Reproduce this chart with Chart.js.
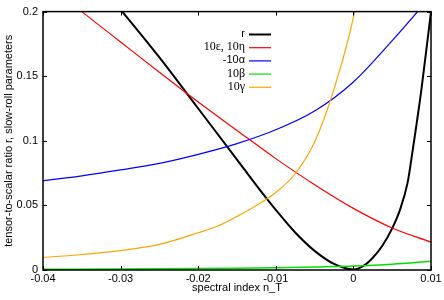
<!DOCTYPE html>
<html>
<head>
<meta charset="utf-8">
<script src="https://cdn.jsdelivr.net/npm/chart.js@4/dist/chart.umd.min.js"></script>
<style>
html,body{margin:0;padding:0;background:#fff;}
#wrap{width:444px;height:300px;position:relative;}
</style>
</head>
<body>
<div id="wrap"><canvas id="c" width="444" height="300"></canvas></div>
<script>
// ---- data ----
const seriesLabels = ["r", "10\u03b5, 10\u03b7", "-10\u03b1", "10\u03b2", "10\u03b3"];
const seriesColors = ["#000000", "#ff0000", "#0000ff", "#00e000", "#ffa500"];

const rX = [-0.04,-0.035,-0.03,-0.025,-0.02,-0.015,-0.0125,-0.01,-0.0075,-0.005,-0.0025,0,0.00125,0.0025,0.00375,0.005,0.006,0.007,0.0075,0.00875,0.01];
const rY = [0.272,0.237,0.2015,0.1645,0.125,0.0855,0.0655,0.0465,0.029,0.0148,0.0047,0.0004,0.003,0.0095,0.019,0.0322,0.0465,0.068,0.087,0.139,0.2];

const epsX = [-0.04,-0.035,-0.03,-0.025,-0.02,-0.015,-0.01,-0.005,0,0.005,0.01];
const epsY = [0.224,0.2,0.1765,0.153,0.130,0.108,0.0862,0.066,0.0477,0.0325,0.0215];

const alphaX = [-0.04,-0.035,-0.03,-0.025,-0.02,-0.015,-0.01,-0.005,0,0.005,0.01];
const alphaY = [0.069,0.0729,0.0775,0.0825,0.0895,0.0978,0.1085,0.123,0.1455,0.1775,0.212];

const betaX = [-0.04,-0.03,-0.02,-0.015,-0.01,-0.005,0,0.005,0.01];
const betaY = [0.0005,0.0007,0.0011,0.0014,0.0018,0.0024,0.0031,0.0045,0.0068];

const gammaX = [-0.04,-0.035,-0.03,-0.025,-0.02,-0.0175,-0.015,-0.0125,-0.01,-0.0075,-0.005,-0.0025,0,0.0025];
const gammaY = [0.0097,0.012,0.015,0.0198,0.0288,0.034,0.0415,0.050,0.060,0.0745,0.099,0.140,0.1955,0.28];

const xTicks = [-0.04,-0.03,-0.02,-0.01,0,0.01];
const xTickLabels = ["-0.04","-0.03","-0.02","-0.01","0","0.01"];
const yTicks = [0,0.05,0.1,0.15,0.2];
const yTickLabels = ["0","0.05","0.1","0.15","0.2"];

const xTitle = "spectral index n_T";
const yTitle = "tensor-to-scalar ratio r, slow-roll parameters";

// ---- build ----
const xs = [rX, epsX, alphaX, betaX, gammaX];
const ys = [rY, epsY, alphaY, betaY, gammaY];
const widths = [2, 1.2, 1.2, 1.5, 1.2];
const legendSerif = [false, true, false, true, true];

const datasets = seriesLabels.map((lab, i) => ({
  label: lab,
  data: xs[i].map((x, j) => ({x: x, y: ys[i][j]})),
  borderColor: seriesColors[i],
  backgroundColor: seriesColors[i],
  borderWidth: widths[i],
  pointRadius: 0,
  fill: false,
  cubicInterpolationMode: 'monotone',
  order: 4 - i
}));

const sans = "'Liberation Sans', Arial, sans-serif";
const serif = "'Liberation Serif', 'DejaVu Serif', serif";

const framePlugin = {
  id: 'frame',
  afterDatasetsDraw(chart) {
    const ctx = chart.ctx, a = chart.chartArea;
    const xs_ = chart.scales.x, ys_ = chart.scales.y;
    ctx.save();
    ctx.strokeStyle = '#000';
    ctx.lineWidth = 1;
    ctx.beginPath();
    const L = 4;
    xTicks.forEach(v => {
      const px = Math.round(xs_.getPixelForValue(v)) + 0.5;
      ctx.moveTo(px, a.bottom); ctx.lineTo(px, a.bottom - L);
      ctx.moveTo(px, a.top); ctx.lineTo(px, a.top + L);
    });
    yTicks.forEach(v => {
      const py = Math.round(ys_.getPixelForValue(v)) + 0.5;
      ctx.moveTo(a.left, py); ctx.lineTo(a.left + L, py);
      ctx.moveTo(a.right, py); ctx.lineTo(a.right - L, py);
    });
    ctx.stroke();
    ctx.lineWidth = 1.5;
    ctx.strokeRect(a.left, a.top, a.right - a.left, a.bottom - a.top);
    ctx.restore();
  }
};

const keyPlugin = {
  id: 'key',
  afterDraw(chart) {
    const ctx = chart.ctx;
    const textRight = 245, lineL = 249, lineR = 271, top = 34, step = 13.2;
    ctx.save();
    chart.data.datasets.forEach((ds, i) => {
      const y = top + i * step;
      ctx.font = (legendSerif[i] ? "12px " + serif : "11px " + sans);
      ctx.fillStyle = '#000';
      ctx.textAlign = 'right';
      ctx.textBaseline = 'middle';
      ctx.fillText(ds.label, textRight, y);
      ctx.strokeStyle = ds.borderColor;
      ctx.lineWidth = i === 0 ? 2 : 1.2;
      ctx.beginPath();
      ctx.moveTo(lineL, y + 0.5); ctx.lineTo(lineR, y + 0.5);
      ctx.stroke();
    });
    ctx.restore();
  }
};

new Chart(document.getElementById('c'), {
  type: 'line',
  data: { datasets: datasets },
  plugins: [framePlugin, keyPlugin],
  options: {
    responsive: false,
    animation: false,
    parsing: true,
    layout: { padding: { top: 7, right: 13, left: 0, bottom: 0 } },
    plugins: { legend: { display: false }, tooltip: { enabled: false } },
    scales: {
      x: {
        type: 'linear', min: -0.04, max: 0.01,
        grid: { display: false, drawTicks: false },
        border: { display: false },
        afterBuildTicks: s => { s.ticks = xTicks.map(v => ({value: v})); },
        afterFit: s => { s.height = 30; },
        ticks: {
          padding: 2,
          autoSkip: false, maxRotation: 0,
          color: '#000',
          font: { family: sans, size: 11 },
          callback: (v, i) => xTickLabels[i]
        },
        title: { display: true, text: xTitle, color: '#000', font: { family: sans, size: 11 }, padding: { top: 0, bottom: 5 } }
      },
      y: {
        type: 'linear', min: 0, max: 0.2,
        grid: { display: false, drawTicks: false },
        border: { display: false },
        afterBuildTicks: s => { s.ticks = yTicks.map(v => ({value: v})); },
        afterFit: s => { s.width = 43; },
        ticks: {
          padding: 5,
          color: '#000',
          font: { family: sans, size: 11 },
          callback: (v, i) => yTickLabels[i]
        },
        title: { display: true, text: yTitle, color: '#000', font: { family: sans, size: 11 }, padding: { top: 2, bottom: 0 } }
      }
    }
  }
});
</script>
</body>
</html>
